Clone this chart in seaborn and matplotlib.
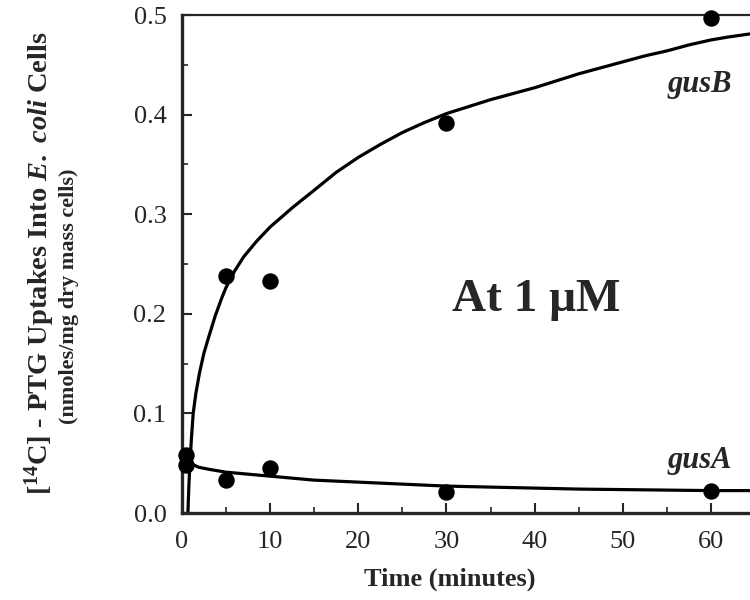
import numpy as np
import pandas as pd
import matplotlib
matplotlib.use("Agg")
import matplotlib.pyplot as plt
import seaborn as sns

# measured uptake points
time_b = [0.5, 5, 10, 30, 60]
uptake_b = [0.048, 0.238, 0.233, 0.392, 0.497]
time_a = [0.5, 5, 10, 30, 60]
uptake_a = [0.058, 0.033, 0.045, 0.021, 0.022]

# fitted curves
fit_time_b = [0.7, 0.8, 0.9, 1.1, 1.3, 1.6, 2, 2.5, 3, 3.8, 4.5, 5, 6, 7, 8.5, 10, 12.6, 15,
              17.5, 20, 22.5, 25, 27.5, 30, 32.5, 35, 37.5, 40, 42.5, 45, 47.5, 50, 52.5,
              55, 57.5, 60, 62, 64.4]
fit_b = [0.0, 0.025, 0.045, 0.075, 0.10, 0.12, 0.14, 0.16, 0.175, 0.198, 0.215, 0.226, 0.243,
         0.257, 0.273, 0.287, 0.307, 0.324, 0.342, 0.357, 0.37, 0.382, 0.392, 0.401, 0.408,
         0.415, 0.421, 0.427, 0.434, 0.441, 0.447, 0.453, 0.459, 0.464, 0.47, 0.475, 0.478,
         0.481]
fit_time_a = [0.5, 0.8, 1.2, 1.9, 3, 5, 7.5, 10, 12.5, 15, 20, 25, 30, 35, 40, 45, 50, 55,
              60, 64.4]
fit_a = [0.056, 0.052, 0.049, 0.046, 0.044, 0.041, 0.039, 0.037, 0.035, 0.033, 0.031, 0.029,
         0.027, 0.026, 0.025, 0.024, 0.0235, 0.023, 0.0225, 0.0225]

sns.set_style("ticks")
plt.rcParams['font.family'] = ['Liberation Serif', 'DejaVu Serif']
plt.rcParams['mathtext.fontset'] = 'custom'
plt.rcParams['mathtext.rm'] = 'Liberation Serif:bold'
plt.rcParams['mathtext.it'] = 'Liberation Serif:bold:italic'
plt.rcParams['mathtext.bf'] = 'Liberation Serif:bold'

fig = plt.figure(figsize=(7.5, 6), dpi=100)
ax = fig.add_axes([0.2423, 0.145, 0.7577, 0.83])

pts = pd.DataFrame({'t': time_b + time_a, 'u': uptake_b + uptake_a,
                    'gene': ['gusB'] * len(time_b) + ['gusA'] * len(time_a)})
fb = pd.DataFrame({'t': fit_time_b, 'u': fit_b})
fa = pd.DataFrame({'t': fit_time_a, 'u': fit_a})

sns.lineplot(data=fb, x='t', y='u', color='black', linewidth=2.3, ax=ax)
sns.lineplot(data=fa, x='t', y='u', color='black', linewidth=2.3, ax=ax)
sns.scatterplot(data=pts, x='t', y='u', color='black', s=140, edgecolor='black',
                linewidth=0, ax=ax, zorder=5, clip_on=False)

ax.set_xlim(0, 64.4)
ax.set_ylim(0, 0.5)
ax.set_xticks([0, 10, 20, 30, 40, 50, 60])
ax.set_xticks([5, 15, 25, 35, 45, 55], minor=True)
ax.set_yticks([0.0, 0.1, 0.2, 0.3, 0.4, 0.5])
ax.set_yticks([0.05, 0.15, 0.25, 0.35, 0.45], minor=True)
ax.set_yticklabels(['0.0', '0.1', '0.2', '0.3', '0.4', '0.5'])
ax.tick_params(which='major', direction='in', length=7, width=1.5, labelsize=19, pad=13)
ax.tick_params(which='minor', direction='in', length=4, width=1.2)
ax.tick_params(axis='y', pad=11)
for s in ['left', 'bottom']:
    ax.spines[s].set_linewidth(2.4)
ax.spines['top'].set_linewidth(1.6)
ax.spines['right'].set_visible(False)
ax.set_xlabel('')
ax.set_ylabel('')

ax.text(58.7, 0.43, 'gusB', fontsize=22, fontweight='bold', fontstyle='italic',
        ha='center', va='center')
ax.text(58.7, 0.053, 'gusA', fontsize=22, fontweight='bold', fontstyle='italic',
        ha='center', va='center')
ax.text(30.6, 0.214, 'At 1 \u03bcM', fontsize=34, fontweight='bold', ha='left', va='center')

fig.text(0.6, 0.035, 'Time (minutes)', fontsize=19, fontweight='bold', ha='center', va='center')
fig.text(0.053, 0.562, r'[$^{14}$C] - PTG Uptakes Into $\mathit{E.\ coli}$ Cells', fontsize=20.5,
         fontweight='bold', rotation=90, ha='center', va='center')
fig.text(0.092, 0.507, '(nmoles/mg dry mass cells)', fontsize=16, fontweight='bold',
         rotation=90, ha='center', va='center')

fig.savefig('out.png', dpi=100)
